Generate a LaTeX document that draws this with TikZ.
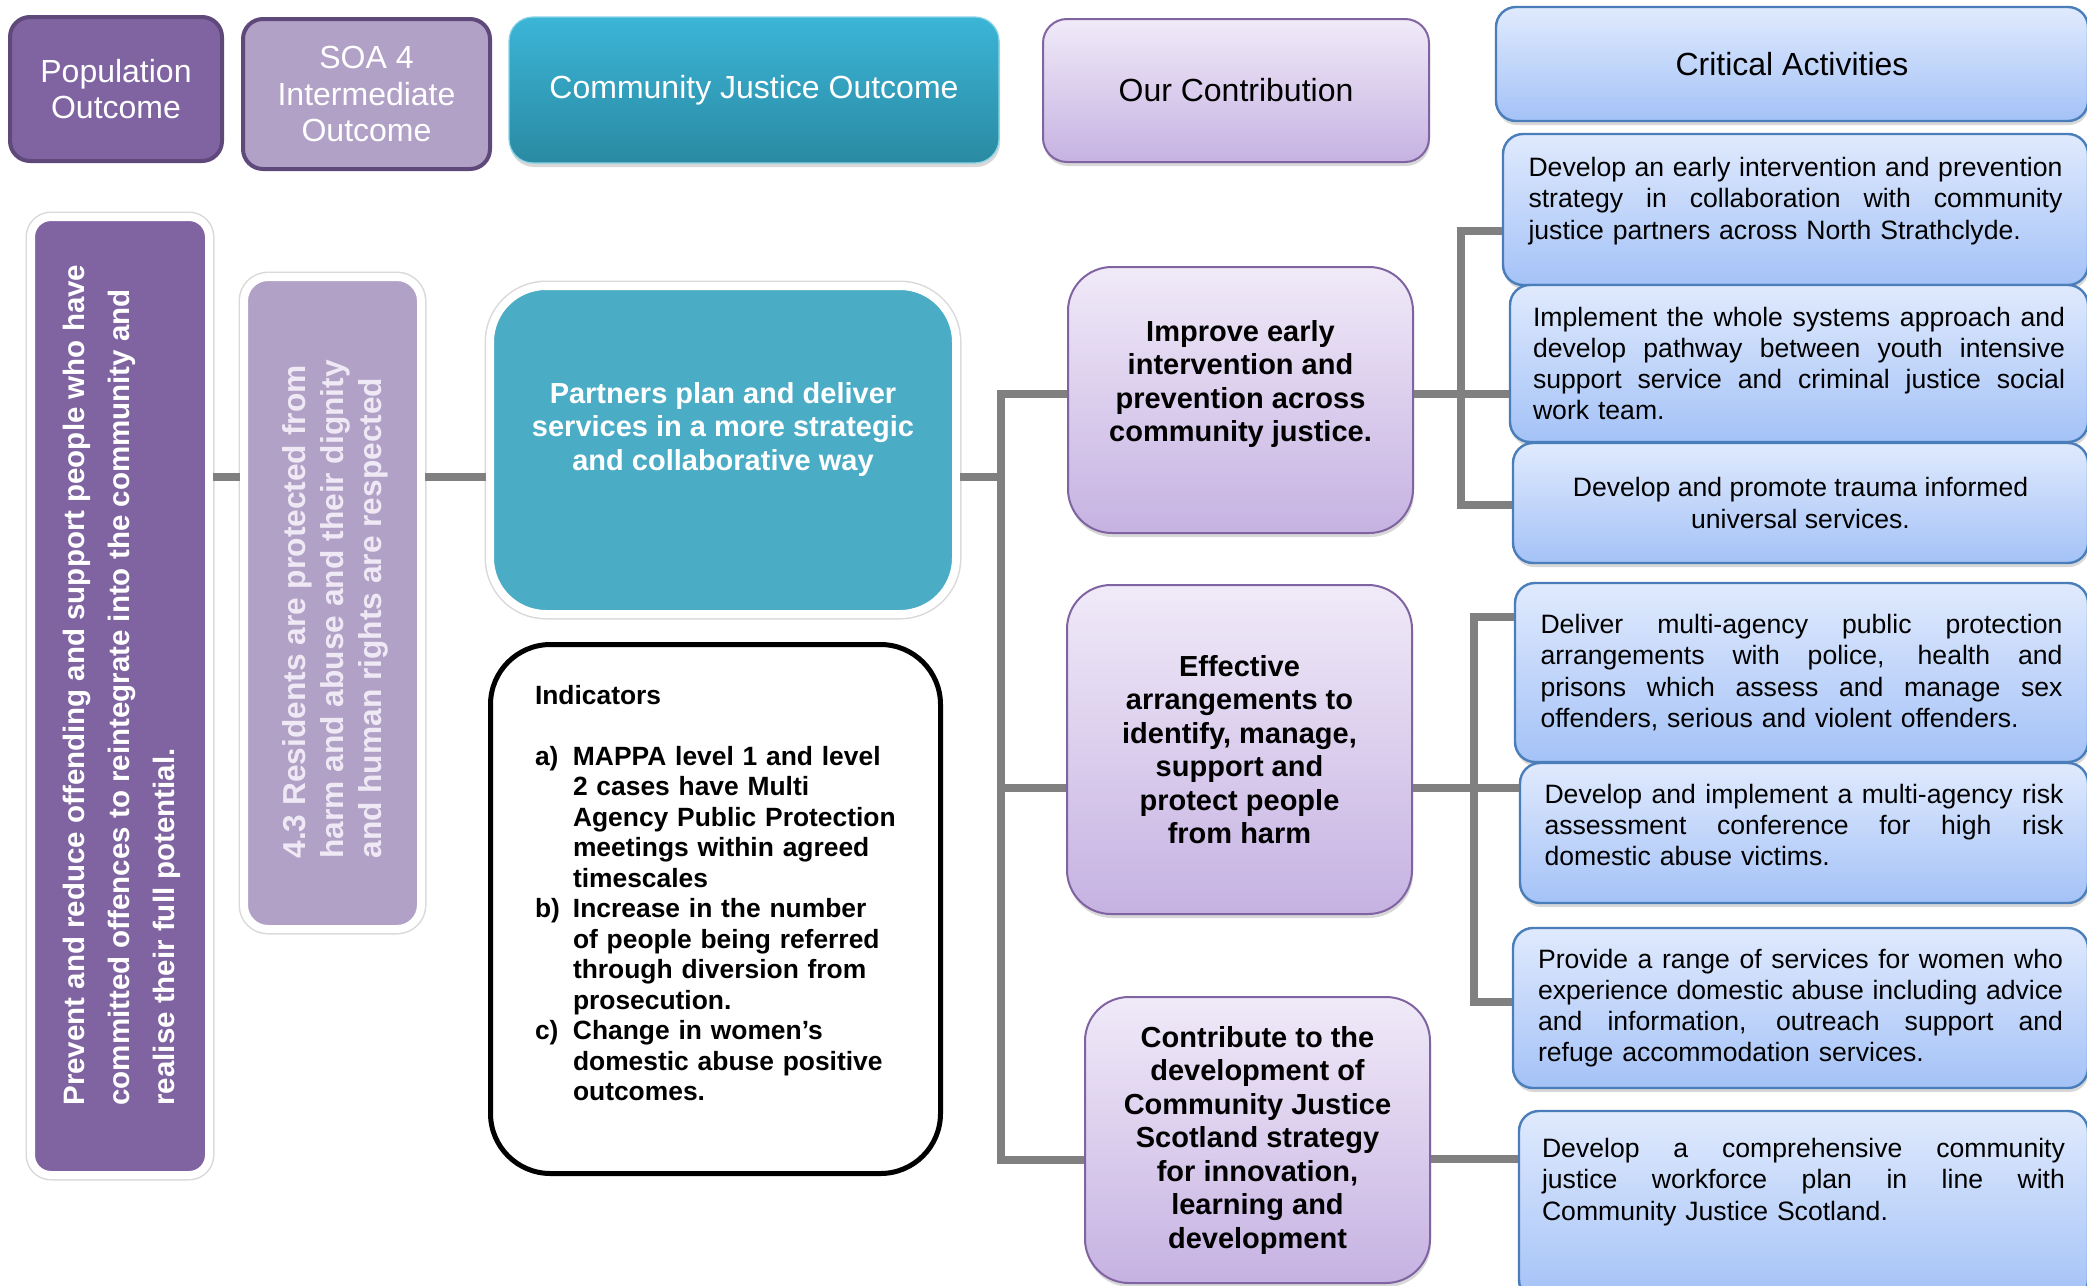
\documentclass[tikz,border=0pt]{standalone}
\usepackage{fontspec}
\setmainfont{Liberation Sans}
\usetikzlibrary{shadows}

\definecolor{popfill}{HTML}{8064A2}
\definecolor{popline}{HTML}{5F497A}
\definecolor{soafill}{HTML}{B2A1C7}
\definecolor{soatext}{HTML}{EEE9F4}
\definecolor{cjotop}{HTML}{3BB5D7}
\definecolor{cjobot}{HTML}{2A8AA2}
\definecolor{partfill}{HTML}{4BACC6}
\definecolor{lavtop}{HTML}{F0EAF8}
\definecolor{lavbot}{HTML}{C6B2E2}
\definecolor{lavline}{HTML}{8064A2}
\definecolor{blutop}{HTML}{E0EAFD}
\definecolor{blubot}{HTML}{A4C2F7}
\definecolor{bluline}{HTML}{4A7EBB}
\definecolor{conngray}{HTML}{808080}

\newcommand{\hdfont}{\fontsize{16}{18.25}\selectfont}
\newcommand{\actfont}{\fontsize{13.3}{15.6}\selectfont}
\newcommand{\confont}{\bfseries\fontsize{14.5}{16.75}\selectfont}
\newcommand{\indfont}{\bfseries\fontsize{13.2}{15.25}\selectfont}
\newcommand{\popfont}{\bfseries\fontsize{14.75}{22.5}\selectfont}
\newcommand{\soafont}{\bfseries\fontsize{15.85}{19}\selectfont}
\newcommand{\jline}[1]{\makebox[\linewidth][s]{\spaceskip=0pt\xspaceskip=0pt #1}}
\newcommand{\itemlab}[1]{\makebox[19pt][l]{#1}}
\newcommand{\subind}{\hspace*{19pt}}

\begin{document}
\begin{tikzpicture}[x=0.5pt,y=-0.5pt,
  shad/.style={drop shadow={shadow xshift=.5pt,shadow yshift=-2pt,opacity=.3}},
  hdr/.style={draw=popline,line width=2pt,rounded corners=10pt,text=white,font=\hdfont,align=center,inner sep=0pt},
  lav/.style={draw=lavline,line width=1pt,top color=lavtop,bottom color=lavbot,rounded corners=#1,inner sep=0pt,align=center,shad},
  lav/.default=22pt,
  blu/.style={draw=bluline,line width=1.2pt,top color=blutop,bottom color=blubot,rounded corners=10pt,inner sep=0pt,font=\actfont,shad},
  col/.style={draw=white,line width=4pt,rounded corners=#1,inner sep=0pt,preaction={draw=black!15,line width=5.5pt}},
  col/.default=10pt,
  conn/.style={draw=conngray,line width=3.7pt},
  txt/.style={inner sep=0pt,align=center}]

\useasboundingbox (0,0) rectangle (2087,1285);
\clip (0,0) rectangle (2087,1285);
\fill[white] (0,0) rectangle (2087,1285);

% column headings
\node[hdr,fill=popfill,minimum width=106pt,minimum height=72pt] (hpop) at (116,89) {Population\\Outcome};
\node[hdr,fill=soafill,minimum width=123.5pt,minimum height=75pt] (hsoa) at (366.5,94) {SOA 4\\Intermediate\\Outcome};
\node[draw=cjotop!60!white,line width=.6pt,top color=cjotop,bottom color=cjobot,rounded corners=12pt,text=white,font=\hdfont,minimum width=245pt,minimum height=73pt,shad] (hcjo) at (754,90) {Community Justice Outcome};
\node[lav=12pt,font=\hdfont,minimum width=193pt,minimum height=71.5pt] (hour) at (1236,90.5) {Our Contribution};
\node[blu,font=\hdfont,minimum width=296pt,minimum height=57pt] (hcrit) at (1792,64) {Critical Activities};

% outcomes
\node[col,fill=popfill,minimum width=89pt,minimum height=479pt] (popcol) at (120,696) {};
\node[rotate=90,anchor=west,text=white,font=\popfont,align=left,inner sep=0pt] (poptxt) at (122,1106)
  {Prevent and reduce offending and support people who have\\committed offences to reintegrate into the community and\\realise their full potential.};
\node[col=12pt,fill=soafill,minimum width=88.5pt,minimum height=326pt] (soacol) at (332.5,603) {};
\node[rotate=90,anchor=west,text=soatext,font=\soafont,align=left,inner sep=0pt] (soatxt) at (335,859)
  {4.3 Residents are protected from\\harm and abuse and their dignity\\and human rights are respected};
\node[col=28pt,fill=partfill,minimum width=233pt,minimum height=164pt] (part) at (723,450) {};
\node[txt,text=white,font=\confont] (parttxt) at ([yshift=10.5pt]part.center)
  {Partners plan and deliver\\services in a more strategic\\and collaborative way};

\node[draw=black,line width=2.5pt,fill=white,rounded corners=30pt,minimum width=225pt,minimum height=264.5pt] (ind) at (715.5,909) {};
\node[txt,font=\indfont,text width=180.5pt,align=left] (indtxt) at ([yshift=8pt]ind.center)
  {Indicators\\[15.25pt]
   \itemlab{a)}MAPPA level 1 and level\\
   \subind 2 cases have Multi\\
   \subind Agency Public Protection\\
   \subind meetings within agreed\\
   \subind timescales\\
   \itemlab{b)}Increase in the number\\
   \subind of people being referred\\
   \subind through diversion from\\
   \subind prosecution.\\
   \itemlab{c)}Change in women’s\\
   \subind domestic abuse positive\\
   \subind outcomes.};

% contributions
\node[lav,minimum width=172.5pt,minimum height=133pt] (c1) at (1240.5,400) {};
\node[txt,font=\confont] (c1txt) at ([yshift=8pt]c1.center) {Improve early\\intervention and\\prevention across\\community justice.};
\node[lav,font=\confont,minimum width=172.5pt,minimum height=164.5pt] (c2) at (1239.5,749.5)
  {Effective\\arrangements to\\identify, manage,\\support and\\protect people\\from harm};
\node[lav,font=\confont,minimum width=172.5pt,minimum height=143pt] (c3) at (1257.5,1140)
  {Contribute to the\\development of\\Community Justice\\Scotland strategy\\for innovation,\\learning and\\development};

% critical activities
\node[blu,minimum width=292.5pt,minimum height=75.5pt] (a1) at (1795.5,209.5) {};
\node[txt,font=\actfont,text width=267pt,align=left] (a1txt) at ([yshift=4.25pt]a1.center)
  {\jline{Develop an early intervention and prevention}\\\jline{strategy in collaboration with community}\\justice partners across North Strathclyde.};
\node[blu,text width=266pt,align=left,minimum width=289pt,minimum height=78.5pt] (a2) at (1799,363.5)
  {\jline{Implement the whole systems approach and}\\\jline{develop pathway between youth intensive}\\\jline{support service and criminal justice social}\\work team.};
\node[blu,align=center,minimum width=287.5pt,minimum height=60pt] (a3) at (1800.5,503)
  {Develop and promote trauma informed\\universal services.};
\node[blu,text width=261pt,align=left,minimum width=286.5pt,minimum height=89.5pt] (a4) at (1801.5,672.5)
  {\jline{Deliver multi-agency public protection}\\\jline{arrangements with police, health and}\\\jline{prisons which assess and manage sex}\\offenders, serious and violent offenders.};
\node[blu,minimum width=284pt,minimum height=70pt] (a5) at (1804,833) {};
\node[txt,font=\actfont,text width=259.5pt,align=left] (a5txt) at ([yshift=4pt]a5.center)
  {\jline{Develop and implement a multi-agency risk}\\\jline{assessment conference for high risk}\\domestic abuse victims.};
\node[blu,text width=262.5pt,align=left,minimum width=287.5pt,minimum height=80pt] (a6) at (1800.5,1008)
  {\jline{Provide a range of services for women who}\\\jline{experience domestic abuse including advice}\\\jline{and information, outreach support and}\\refuge accommodation services.};
\node[blu,minimum width=284.5pt,minimum height=94.5pt] (a7) at (1803.5,1205.5) {};
\node[txt,font=\actfont,text width=261.5pt,align=left] (a7txt) at ([yshift=11.75pt]a7.center)
  {\jline{Develop a comprehensive community}\\\jline{justice workforce plan in line with}\\Community Justice Scotland.};

% connectors
\coordinate (mid) at (0,477);
\coordinate (tr) at (1001,477);
\draw[conn] (popcol.east |- mid) -- (soacol.west |- mid);
\draw[conn] (soacol.east |- mid) -- (part.west |- mid);
\draw[conn] (part.east |- mid) -- (tr);
\draw[conn] (c1.west |- 0,394) -| (tr) |- (c3.west |- 0,1160);
\draw[conn] (tr |- 0,788) -- (c2.west |- 0,788);

\coordinate (b1) at (1461,394);
\draw[conn] (c1.east |- b1) -- (a2.west |- b1);
\draw[conn] (a1.west |- 0,231) -| (b1) |- (a3.west |- 0,505);

\coordinate (b2) at (1474,788);
\draw[conn] (c2.east |- b2) -- (a5.west |- b2);
\draw[conn] (a4.west |- 0,617) -| (b2) |- (a6.west |- 0,1002);

\draw[conn] (c3.east |- 0,1159) -- (a7.west |- 0,1159);
\end{tikzpicture}
\end{document}
